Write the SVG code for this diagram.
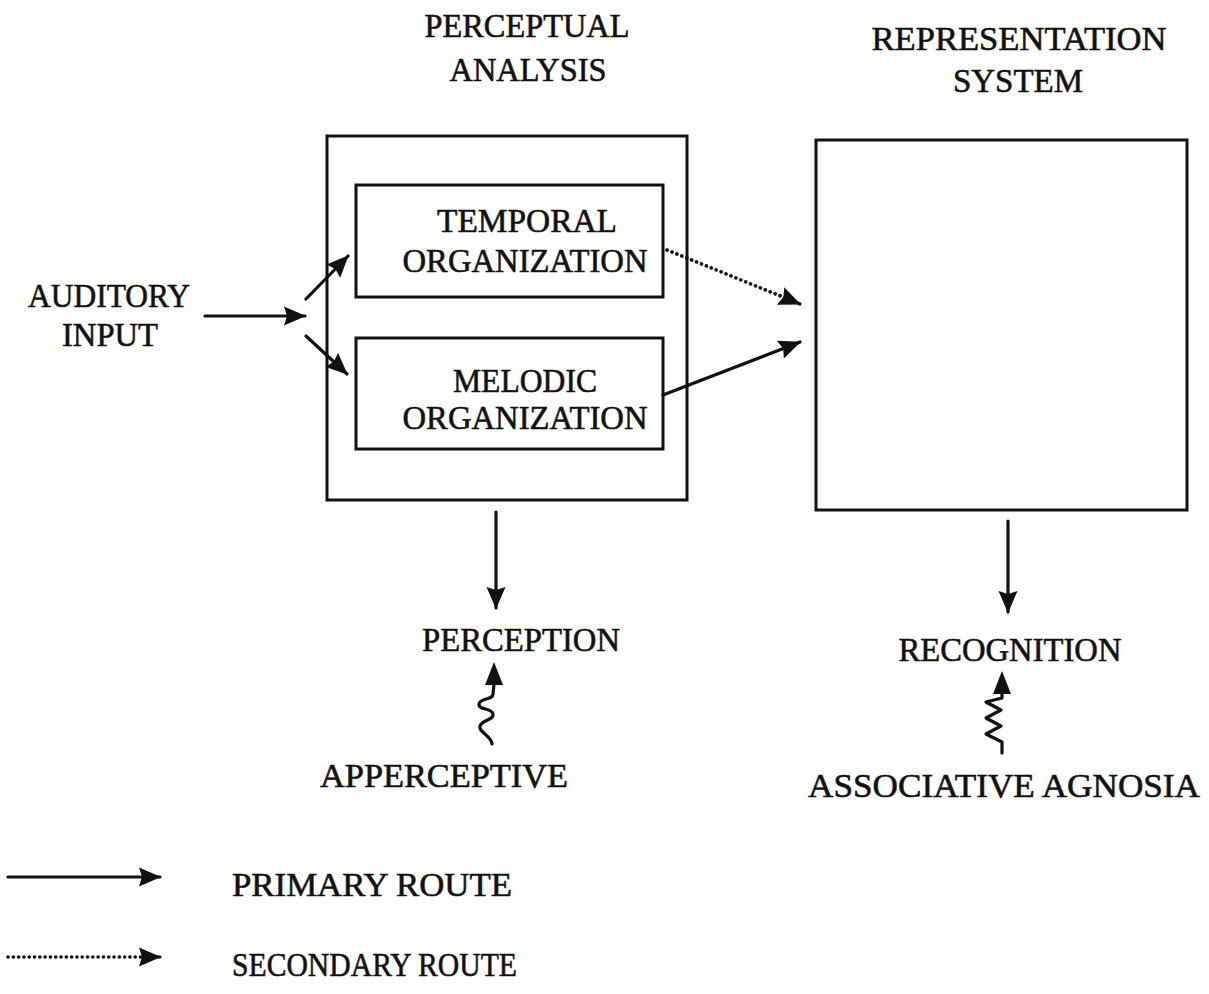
<svg xmlns="http://www.w3.org/2000/svg" width="1209" height="994" viewBox="0 0 1209 994">
<style>
.t{font-family:"Liberation Serif","Times New Roman",serif;font-size:34.5px;fill:#111;stroke:#111;stroke-width:0.6;text-anchor:middle}
.tl{font-family:"Liberation Serif","Times New Roman",serif;font-size:34.5px;fill:#111;stroke:#111;stroke-width:0.6;text-anchor:start}
.box{fill:none;stroke:#111;stroke-width:3}
.ln{fill:none;stroke:#111;stroke-width:3.2;stroke-linecap:round}
.dot{fill:none;stroke:#111;stroke-width:3.6;stroke-linecap:round;stroke-dasharray:0.1 5.2}
.sq{fill:none;stroke:#111;stroke-width:3.2;stroke-linejoin:round;stroke-linecap:round}
.ah{fill:#111}
</style>
<defs>
<marker id="arr" markerUnits="userSpaceOnUse" markerWidth="24" markerHeight="22" refX="21" refY="11" orient="auto">
<path d="M0,1.5 L22,11 L0,20.5 L3,11 Z" fill="#111"/>
</marker>
</defs>
<rect width="1209" height="994" fill="#fff"/>
<g id="title-perceptual">
<text class="t" x="527" y="37" textLength="205" lengthAdjust="spacingAndGlyphs">PERCEPTUAL</text>
<text class="t" x="528" y="81" textLength="157" lengthAdjust="spacingAndGlyphs">ANALYSIS</text>
</g>
<g id="title-representation">
<text class="t" x="1019" y="50" textLength="295" lengthAdjust="spacingAndGlyphs">REPRESENTATION</text>
<text class="t" x="1018" y="92" textLength="130" lengthAdjust="spacingAndGlyphs">SYSTEM</text>
</g>
<g id="auditory-input">
<text class="t" x="109" y="307" textLength="162" lengthAdjust="spacingAndGlyphs">AUDITORY</text>
<text class="t" x="110" y="346" textLength="96" lengthAdjust="spacingAndGlyphs">INPUT</text>
</g>
<g id="perceptual-analysis">
<rect class="box" x="327" y="136" width="360" height="364"/>
</g>
<g id="temporal-organization">
<rect class="box" x="356" y="185" width="307" height="112"/>
<text class="t" x="527" y="232" textLength="180" lengthAdjust="spacingAndGlyphs">TEMPORAL</text>
<text class="t" x="525" y="272" textLength="245" lengthAdjust="spacingAndGlyphs">ORGANIZATION</text>
</g>
<g id="melodic-organization">
<rect class="box" x="356" y="338" width="307" height="111"/>
<text class="t" x="525" y="392" textLength="144" lengthAdjust="spacingAndGlyphs">MELODIC</text>
<text class="t" x="525" y="429" textLength="245" lengthAdjust="spacingAndGlyphs">ORGANIZATION</text>
</g>
<g id="representation-system">
<rect class="box" x="816" y="140" width="371" height="370"/>
</g>
<g id="perception">
<text class="t" x="521" y="651" textLength="198" lengthAdjust="spacingAndGlyphs">PERCEPTION</text>
</g>
<g id="recognition">
<text class="t" x="1010" y="661" textLength="223" lengthAdjust="spacingAndGlyphs">RECOGNITION</text>
</g>
<g id="apperceptive">
<text class="t" x="444" y="787" textLength="248" lengthAdjust="spacingAndGlyphs">APPERCEPTIVE</text>
</g>
<g id="associative-agnosia">
<text class="t" x="1004" y="797" textLength="392" lengthAdjust="spacingAndGlyphs">ASSOCIATIVE AGNOSIA</text>
</g>
<g id="connectors">
<line class="ln" x1="205" y1="316" x2="305" y2="316" marker-end="url(#arr)"/>
<line class="ln" x1="306" y1="299" x2="348" y2="256" marker-end="url(#arr)"/>
<line class="ln" x1="306" y1="336" x2="347" y2="374" marker-end="url(#arr)"/>
<line class="dot" x1="667" y1="250" x2="788" y2="299"/>
<line class="ln" x1="788" y1="299" x2="800" y2="304" marker-end="url(#arr)"/>
<line class="ln" x1="663" y1="395" x2="800" y2="342" marker-end="url(#arr)"/>
<line class="ln" x1="496" y1="512" x2="496" y2="608" marker-end="url(#arr)"/>
<line class="ln" x1="1008" y1="521" x2="1008" y2="612" marker-end="url(#arr)"/>
<path class="sq" d="M492,744 C492,736 478,732 480,726 C482,720 494,720 493,714 C492,708 478,710 479,704 C480,698 493,700 493,694 L494,684"/>
<polygon class="ah" points="494,662 503,685 485,685"/>
<path class="sq" d="M1002,753 L1002,742 L986,734 L1001,726 L986,718 L1001,710 L986,702 L1002,698 L1002,692"/>
<polygon class="ah" points="1002,671 1011,694 993,694"/>
</g>
<g id="legend">
<line class="ln" x1="8" y1="877" x2="160" y2="877" marker-end="url(#arr)"/>
<line class="dot" x1="8" y1="957" x2="148" y2="957"/>
<line class="ln" x1="148" y1="957" x2="160" y2="957" marker-end="url(#arr)"/>
<text class="tl" x="232" y="896" textLength="280" lengthAdjust="spacingAndGlyphs">PRIMARY ROUTE</text>
<text class="tl" x="232" y="976" textLength="285" lengthAdjust="spacingAndGlyphs">SECONDARY ROUTE</text>
</g>
</svg>
